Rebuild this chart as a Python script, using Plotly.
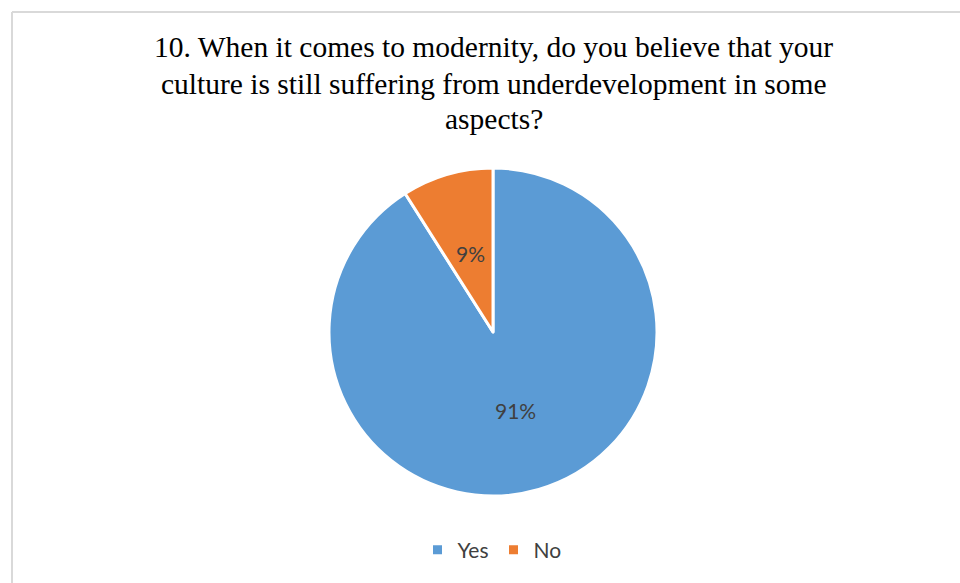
import math
import plotly.graph_objects as go

labels = ["Yes", "No"]
values = [91, 9]
colors = ["#5B9BD5", "#ED7D31"]
title_lines = [
    "10. When it comes to modernity, do you believe that your",
    "culture is still suffering from underdevelopment in some",
    "aspects?",
]

W, H = 960, 583
# pie geometry (pixels)
CX, CY, R = 493, 332, 164
dom_x = [(CX - R) / W, (CX + R) / W]
dom_y = [1 - (CY + R) / H, 1 - (CY - R) / H]

fig = go.Figure(go.Pie(
    labels=labels, values=values, sort=False, direction="clockwise", rotation=0,
    marker=dict(colors=colors, line=dict(color="white", width=3)),
    textinfo="none",
    domain=dict(x=dom_x, y=dom_y),
    hoverinfo="label+percent",
))

# percentage labels placed at half radius along each slice's bisector
annotations = []
total = sum(values)
cum = 0
for v in values:
    mid = (cum + v / 2) / total * 2 * math.pi
    cum += v
    px = CX + 0.5 * R * math.sin(mid)
    py = CY - 0.5 * R * math.cos(mid)
    annotations.append(dict(
        x=px / W, y=1 - py / H, xref="paper", yref="paper",
        text=f"{round(v / total * 100)}%", showarrow=False,
        xanchor="center", yanchor="middle",
        font=dict(family="Lato", size=21, color="#404040"),
    ))

title_y = [47, 84, 119]
for line, ty in zip(title_lines, title_y):
    annotations.append(dict(
        x=494 / W, y=1 - ty / H, xref="paper", yref="paper",
        text=line, showarrow=False, xanchor="center", yanchor="middle",
        font=dict(family="Liberation Serif", size=29.5, color="#000000"),
    ))

fig.update_layout(
    width=W, height=H,
    margin=dict(l=0, r=0, t=0, b=0),
    paper_bgcolor="white", plot_bgcolor="white",
    annotations=annotations,
    legend=dict(orientation="h", x=492 / W, xanchor="center", y=1 - 550 / H, yanchor="middle",
                font=dict(family="Lato", size=21, color="#404040"),
                itemwidth=30, traceorder="normal"),
    shapes=[
        dict(type="line", xref="paper", yref="paper", x0=12 / W, x1=1.01, y0=1 - 12 / H, y1=1 - 12 / H,
             line=dict(color="#D9D9D9", width=2)),
        dict(type="line", xref="paper", yref="paper", x0=12 / W, x1=12 / W, y0=1 - 12 / H, y1=-0.01,
             line=dict(color="#D9D9D9", width=2)),
    ],
)

fig.write_html("out.html")
